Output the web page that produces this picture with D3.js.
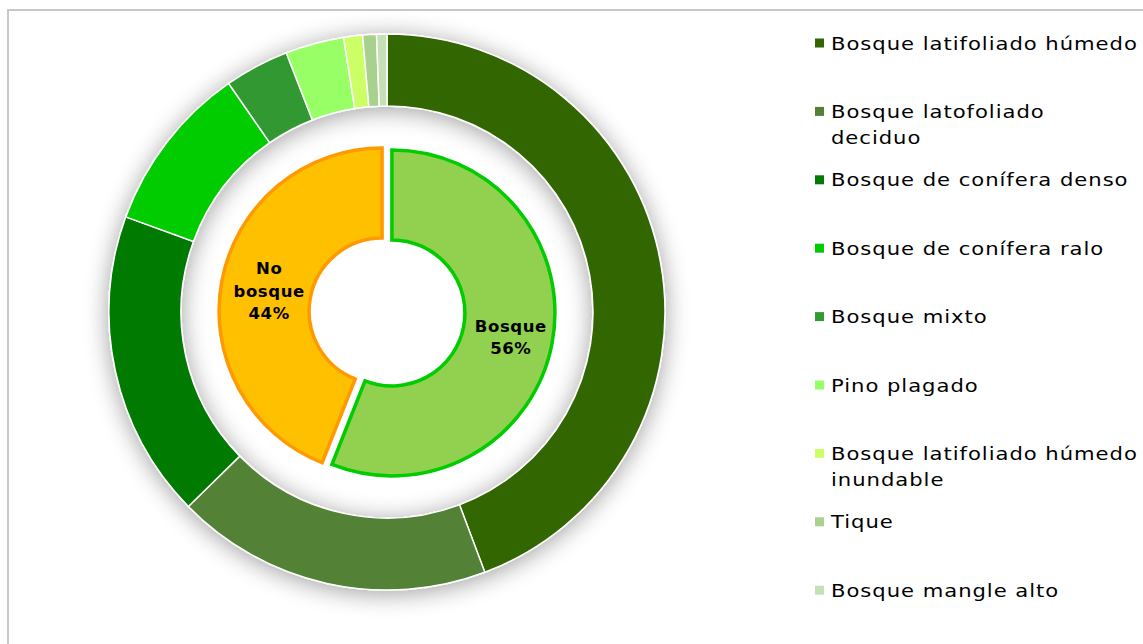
<!DOCTYPE html>
<html>
<head>
<meta charset="utf-8">
<script src="https://cdn.jsdelivr.net/npm/d3@7"></script>
<style>
  body { margin: 0; background: #fff; }
  svg { display: block; }
</style>
</head>
<body>
<div id="chart"></div>
<script>
  // outer ring: forest types (% of forest area)
  const outerLabels = [
    "Bosque latifoliado húmedo",
    "Bosque latofoliado deciduo",
    "Bosque de conífera denso",
    "Bosque de conífera ralo",
    "Bosque mixto",
    "Pino plagado",
    "Bosque latifoliado húmedo inundable",
    "Tique",
    "Bosque mangle alto"
  ]
  const outerValues = [44.3, 18.4, 17.9, 9.8, 3.75, 3.4, 1.1, 0.8, 0.6]
  const outerColors = ["#336600", "#538135", "#007a00", "#00cc00", "#339933",
                       "#99ff66", "#ccff66", "#a9d18e", "#c5e0b4"]
  // legend wrapping as in the original
  const legendLines = [
    ["Bosque latifoliado húmedo"],
    ["Bosque latofoliado", "deciduo"],
    ["Bosque de conífera denso"],
    ["Bosque de conífera ralo"],
    ["Bosque mixto"],
    ["Pino plagado"],
    ["Bosque latifoliado húmedo", "inundable"],
    ["Tique"],
    ["Bosque mangle alto"]
  ]

  // inner ring: forest / no forest
  const innerLabels = [["Bosque"], ["No", "bosque"]]
  const innerValues = [56, 44]
  const innerFill = ["#92d050", "#ffc000"]
  const innerStroke = ["#00cc00", "#ff9900"]

  const width = 1143, height = 644
  const cx = 387, cy = 312

  const svg = d3.select("#chart").append("svg")
    .attr("width", width)
    .attr("height", height)

  // frame
  svg.append("rect")
    .attr("x", 8).attr("y", 10)
    .attr("width", 1200).attr("height", 700)
    .attr("fill", "none")
    .attr("stroke", "#c8c8c8")
    .attr("stroke-width", 2)

  // soft shadow round the outer ring
  const defs = svg.append("defs")
  const f = defs.append("filter").attr("id", "glow")
    .attr("x", "-30%").attr("y", "-30%").attr("width", "160%").attr("height", "160%")
  f.append("feGaussianBlur").attr("in", "SourceAlpha").attr("stdDeviation", 12).attr("result", "b")
  f.append("feOffset").attr("in", "b").attr("dy", 3).attr("result", "o")
  f.append("feComponentTransfer").attr("in", "o").attr("result", "s")
    .append("feFuncA").attr("type", "linear").attr("slope", 0.38)
  const m = f.append("feMerge")
  m.append("feMergeNode").attr("in", "s")
  m.append("feMergeNode").attr("in", "SourceGraphic")

  const pie = d3.pie().sort(null).value(d => d)

  const outerArc = d3.arc().innerRadius(206).outerRadius(278)

  svg.append("g")
    .attr("transform", `translate(${cx},${cy})`)
    .attr("filter", "url(#glow)")
    .selectAll("path")
    .data(pie(outerValues))
    .join("path")
      .attr("d", outerArc)
      .attr("fill", (d, i) => outerColors[i])
      .attr("stroke", "#fff")
      .attr("stroke-width", 1.5)

  // inner donut, slices pulled apart a little
  const innerArc = d3.arc().innerRadius(73).outerRadius(163)
  const explode = 5

  const gi = svg.append("g").attr("transform", `translate(${cx},${cy})`)
  const innerData = pie(innerValues)

  const slice = gi.selectAll("g")
    .data(innerData)
    .join("g")
      .attr("transform", d => {
        const a = (d.startAngle + d.endAngle) / 2
        return `translate(${explode * Math.sin(a)},${-explode * Math.cos(a)})`
      })

  slice.append("path")
    .attr("d", innerArc)
    .attr("fill", (d, i) => innerFill[i])
    .attr("stroke", (d, i) => innerStroke[i])
    .attr("stroke-width", 3.5)

  const lab = slice.append("text")
    .attr("transform", d => {
      const c = innerArc.centroid(d)
      return `translate(${c[0] + 3},${c[1] + 2})`
    })
    .attr("text-anchor", "middle")
    .attr("font-family", "'DejaVu Sans', sans-serif")
    .attr("font-weight", "bold")
    .attr("font-size", 16.5)
    .attr("letter-spacing", 0.6)
    .attr("fill", "#000")

  lab.each(function(d, i) {
    const lines = innerLabels[i].concat([d3.format(".0f")(innerValues[i]) + "%"])
    const t = d3.select(this)
    const y0 = -(lines.length - 1) * 22.5 / 2 + 6
    lines.forEach((s, k) => {
      t.append("tspan").attr("x", 0).attr("y", y0 + k * 22.5).text(s)
    })
  })

  // legend
  const lg = svg.append("g")
    .attr("font-family", "'DejaVu Sans', sans-serif")
    .attr("font-size", 17.5)
    .attr("letter-spacing", 0.8)
    .attr("fill", "#000")

  const item = lg.selectAll("g")
    .data(outerLabels)
    .join("g")
      .attr("transform", (d, i) => `translate(815,${43 + i * 68.4})`)

  item.append("rect")
    .attr("x", 0).attr("y", -4.5)
    .attr("width", 9).attr("height", 9)
    .attr("fill", (d, i) => outerColors[i])

  const txt = item.append("text")
    .attr("transform", "translate(16,0)")
    .each(function(d, i) {
      const t = d3.select(this)
      legendLines[i].forEach((s, k) => {
        t.append("tspan").attr("x", 0).attr("y", 6.5 + k * 26).text(s)
      })
    })

  // the original face is wider; stretch so the first entry spans ~307px
  const w0 = txt.node().getComputedTextLength()
  const sx = Math.min(1.4, Math.max(1, 307 / w0))
  txt.attr("transform", `translate(16,0) scale(${sx},1)`)
</script>
</body>
</html>
